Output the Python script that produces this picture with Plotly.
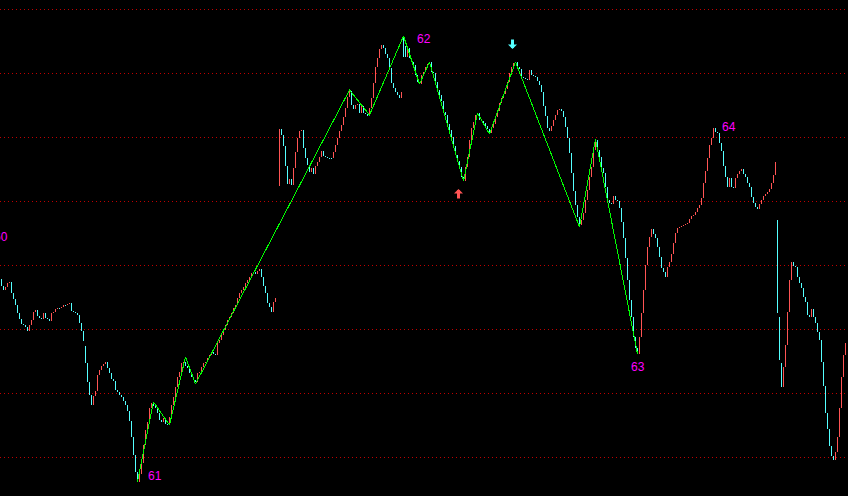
import plotly.graph_objects as go

# ---- data (price scale) ----
closes = [
    214,210,213,217,218,207,201,195,187,181,
    176,175,173,169,175,180,188,190,184,182,
    181,187,182,181,179,187,188,191,192,192,
    193,195,195,196,197,189,188,187,185,177,
    169,159,137,118,105,95,104,109,125,130,
    134,136,138,132,127,121,119,110,108,105,
    103,99,95,89,79,63,45,28,18,
    26,37,55,70,78,92,97,94,92,87,
    80,78,82,76,75,83,95,103,113,123,
    128,137,138,134,132,127,123,120,118,127,
    128,133,137,138,142,145,148,146,145,157,
    160,165,170,175,180,183,187,192,195,202,
    207,210,213,217,220,223,227,228,226,229,
    231,223,214,207,197,193,188,198,202,
    None,
    371,365,354,334,316,321,315,332,348,362,
    369,370,352,342,335,328,332,326,334,338,
    343,349,344,343,342,342,342,348,355,362,
    369,375,383,392,403,409,395,391,395,396,
    387,394,387,386,384,392,402,417,433,442,
    451,455,452,446,442,432,417,412,408,405,
    402,408,443,443,452,442,438,435,425,418,
    416,425,428,433,436,438,428,427,418,410,
    405,399,388,385,376,
    370,363,354,345,339,333,323,319,333,343,
    360,372,378,385,387,380,379,377,374,371,
    367,372,376,383,389,397,402,406,411,418,
    427,433,437,438,433,431,423,422,421,420,
    430,425,424,423,419,415,408,394,384,372,
    369,374,380,385,390,391,389,383,373,362,
    347,327,309,295,283,275,280,287,300,310,
    323,333,350,360,350,343,332,327,313,300,
    297,296,304,300,299,292,278,262,242,220,
    200,183,163,152,146,163,187,210,235,253,
    263,271,266,262,253,243,232,228,223,233,
    238,246,257,267,272,273,274,275,276,277,
    281,284,285,288,292,295,302,317,329,342,
    355,362,372,368,367,357,349,334,323,313,
    322,313,312,322,326,329,331,326,323,317,
    313,303,297,293,291,296,300,304,306,308,
    311,317,325,338,187,140,113,133,155,188,
    220,238,234,233,223,217,212,203,198,185,
    183,191,183,177,168,160,138,114,87,71,
    54,44,40,48,63,92,123,145,157,
]
gap_opens = {0: 221, 42: 154, 139: 314, 201: 463, 202: 454, 388: 280, 389: 183, 390: 137}

zz_idx = [68, 76, 84, 92, 97, 174, 184, 201, 209, 214, 231, 238, 244, 257, 289, 297, 318]
zz_val = [18, 98, 75, 143, 116, 410, 385, 464, 416, 438, 319, 387, 366, 438, 273, 361, 146]

label_text = ["60", "61", "62", "63", "64"]
label_idx = [-0.25, 76.75, 211, 318, 363.75]
label_val = [263, 24, 461.5, 133, 373]

buy_idx, buy_val = [228.5], [311]
sell_idx, sell_val = [255.5], [451]

UP = "#ff5454"
DN = "#54ffff"

rx, ry, cx, cy = [], [], [], []
prev = None
for i, c in enumerate(closes):
    if c is None:
        prev = None
        continue
    o = gap_opens.get(i, prev if prev is not None else c)
    if c > o:
        rx += [i, i, None]; ry += [o, c, None]
    elif c < o:
        cx += [i, i, None]; cy += [o, c, None]
    else:
        cx += [i, i, None]; cy += [o, c - 1, None]
    prev = c

fig = go.Figure()
fig.add_trace(go.Scatter(x=rx, y=ry, mode="lines", line=dict(color=UP, width=1),
                         hoverinfo="skip", showlegend=False))
fig.add_trace(go.Scatter(x=cx, y=cy, mode="lines", line=dict(color=DN, width=1),
                         hoverinfo="skip", showlegend=False))
fig.add_trace(go.Scatter(x=zz_idx, y=zz_val, mode="lines", line=dict(color="#00ff00", width=1),
                         hoverinfo="skip", showlegend=False))

ann = []
for t, xi, yv in zip(label_text, label_idx, label_val):
    ann.append(dict(x=xi, y=yv, xref="x", yref="y", text=t, showarrow=False,
                    font=dict(family="Liberation Sans", size=12, color="#ff00ff"),
                    xanchor="center", yanchor="middle"))
for xi, yv in zip(buy_idx, buy_val):
    ann.append(dict(x=xi, y=yv, ax=xi, ay=yv - 11, xref="x", yref="y", axref="x", ayref="y",
                    text="", showarrow=True, arrowhead=1, arrowsize=0.5, arrowwidth=3,
                    arrowcolor=UP))
for xi, yv in zip(sell_idx, sell_val):
    ann.append(dict(x=xi, y=yv, ax=xi, ay=yv + 11, xref="x", yref="y", axref="x", ayref="y",
                    text="", showarrow=True, arrowhead=1, arrowsize=0.5, arrowwidth=3,
                    arrowcolor=DN))

fig.update_layout(
    width=848, height=496,
    margin=dict(l=0, r=0, t=0, b=0),
    paper_bgcolor="#000000", plot_bgcolor="#000000",
    showlegend=False,
    annotations=ann,
    xaxis=dict(range=[-0.75, 423.25], showgrid=False, zeroline=False,
               showticklabels=False, ticks="", showline=False, fixedrange=True),
    yaxis=dict(range=[4, 500], showgrid=True, gridcolor="#c00000", gridwidth=1,
               griddash="1px,3px", tick0=42.5, dtick=64, zeroline=False,
               showticklabels=False, ticks="", showline=False, fixedrange=True),
)

fig.write_html("out.html", config={"displayModeBar": False})
with open("out.html", "r", encoding="utf-8") as f:
    html = f.read()
css = ("<style>.scatterlayer path.js-line, .gridlayer path{shape-rendering:crispEdges;}"
       "</style>")
html = html.replace("<head>", "<head>" + css, 1)
html = html.replace("<body>", '<body style="margin:0;padding:0;background:#000;overflow:hidden">', 1)
with open("out.html", "w", encoding="utf-8") as f:
    f.write(html)
